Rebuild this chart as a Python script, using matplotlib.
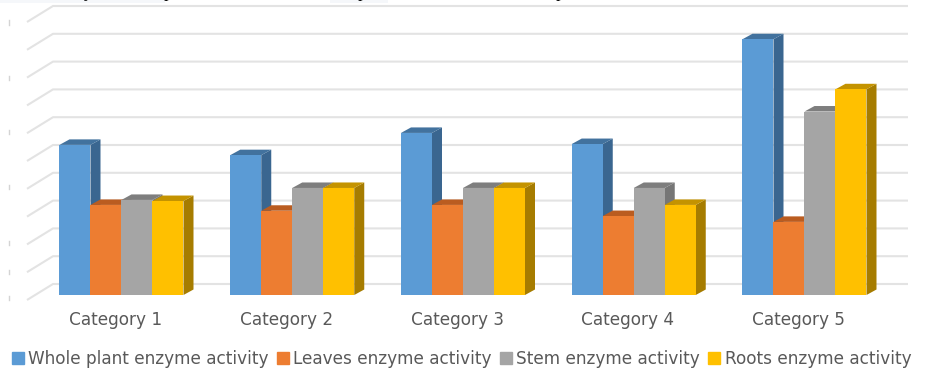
import matplotlib
matplotlib.use('Agg')
import matplotlib.pyplot as plt
from matplotlib.patches import Polygon, Patch, Rectangle

plt.rcParams['font.family'] = ['DejaVu Sans']

categories = ['Category 1', 'Category 2', 'Category 3', 'Category 4', 'Category 5']
whole_plant = [5.4, 5.03, 5.83, 5.43, 9.2]
leaves = [3.24, 3.03, 3.24, 2.84, 2.63]
stem = [3.42, 3.85, 3.85, 3.85, 6.6]
roots = [3.38, 3.85, 3.85, 3.24, 7.4]
series_names = ['Whole plant enzyme activity', 'Leaves enzyme activity',
                'Stem enzyme activity', 'Roots enzyme activity']
grid_values = list(range(11))
stub_values = [-0.1, 0.83, 1.87, 3.88, 5.86, 7.8, 9.8]

W, H = 948, 370
px_x = 170.75   # pixels per category
px_y = 27.8     # pixels per value unit
x0, y0 = 121.5, 295  # pixel position of first category centre at value 0

fig = plt.figure(figsize=(W/100, H/100), dpi=100)
ax = fig.add_axes([0, 0, 1, 1])
ax.set_xlim((0 - x0)/px_x, (W - x0)/px_x)
ax.set_ylim((y0 - H)/px_y, y0/px_y)
ax.axis('off')

bar_w = 31/px_x
dx, dy = 10/px_x, 5.5/px_y   # bar depth

front = ['#5B9BD5', '#ED7D31', '#A5A5A5', '#FFC000']
side = ['#3A6690', '#A85A24', '#767676', '#A67C00']
top = ['#42729E', '#BA5C20', '#7E7E7E', '#C49300']

# back wall lines and the slanted side lines
gx0, gx1 = (53 - x0)/px_x, (908 - x0)/px_x
sx0 = (27 - x0)/px_x
sdy = 16/px_y
back = 11/px_y
for g in grid_values:
    ax.plot([sx0, gx0, gx1], [g + back - sdy, g + back, g + back],
            color='#E3E3E3', lw=1.5, zorder=1, solid_capstyle='butt')

# small tick stubs on the far left
for g in stub_values:
    ax.plot([(8.5 - x0)/px_x]*2, [g - 0.08, g + 0.08], color='#D4D4D4', lw=1, zorder=1)

all_series = [whole_plant, leaves, stem, roots]
for c in range(len(categories)):
    for s, vals in enumerate(all_series):
        v = vals[c]
        left = c + (s - 2)*bar_w
        right = left + bar_w
        z = 3 + c + s*0.1
        ax.add_patch(Polygon([(right, 0), (right + dx, dy), (right + dx, v + dy), (right, v)],
                             color=side[s], lw=0, zorder=z))
        ax.add_patch(Polygon([(left, v), (left + dx, v + dy), (right + dx, v + dy), (right, v)],
                             color=top[s], lw=0, zorder=z))
        ax.bar(left, v, width=bar_w, align='edge', color=front[s], lw=0, zorder=z + 0.01)

for c, name in enumerate(categories):
    ax.text(c - 0.035, (y0 - 320)/px_y, name, ha='center', va='center',
            fontsize=12.2, color='#595959')

handles = [Patch(color=front[s], label=series_names[s]) for s in range(4)]
ax.legend(handles=handles, ncols=4, frameon=False, loc='center left',
          bbox_to_anchor=(12/W, (H - 359)/H), fontsize=12.2, labelcolor='#595959',
          handlelength=0.7, handleheight=0.65, handletextpad=0.25, columnspacing=0.5,
          borderpad=0, borderaxespad=0)

# clipped line of body text along the top edge: only descenders remain
for (a, b) in [(0, 165), (330, 388)]:
    ax.add_patch(Rectangle((a/W, 1 - 3/H), (b - a)/W, 3/H, transform=ax.transAxes,
                           color='#F5F7FA', lw=0, zorder=0))
for px, ch in [(88, 'y'), (168, 'p'), (362, 'p'), (560, 'p')]:
    ax.text(px/W, 1 + 3/H, ch, transform=ax.transAxes, fontsize=13, color='black',
            ha='center', va='baseline', family='Liberation Serif')

fig.savefig('out.png', dpi=100)
